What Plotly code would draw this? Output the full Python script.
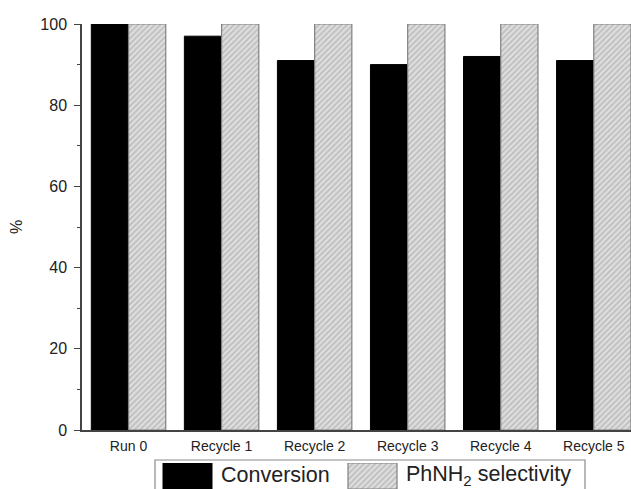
import plotly.graph_objects as go

# ---- data ----
categories = ["Run 0", "Recycle 1", "Recycle 2", "Recycle 3", "Recycle 4", "Recycle 5"]
conversion = [100, 97, 91, 90, 92, 91]
selectivity = [100, 100, 100, 100, 100, 100]
y_ticks = [0, 20, 40, 60, 80, 100]
series_names = ["Conversion", "PhNH<sub>2</sub> selectivity"]

W, H = 631, 489
ML, MT = 82, 24
plot_bottom = 430  # pixel of y=0
paper_h = H - MT

FONT = "Liberation Sans, Arial, sans-serif"
hatch = dict(shape="/", fgcolor="#999999", bgcolor="#dedede", size=4, solidity=0.4)

fig = go.Figure()
fig.add_trace(go.Bar(x=categories, y=conversion, name=series_names[0],
                     marker=dict(color="#000000", line=dict(color="#000000", width=1)),
                     showlegend=False))
fig.add_trace(go.Bar(x=categories, y=selectivity, name=series_names[1],
                     marker=dict(color="#dedede", pattern=hatch,
                                 line=dict(color="#808080", width=1.2)),
                     showlegend=False))

# ---- custom legend (swatches on a helper axis measured in pixels) ----
legend_swatch_x = [187.5, 372.5]
legend_text_x = [219, 404]
fig.add_trace(go.Bar(x=[legend_swatch_x[0]], y=[1], width=[49], xaxis="x2", yaxis="y2",
                     marker=dict(color="#000000", line=dict(color="#000000", width=1)),
                     showlegend=False, hoverinfo="skip"))
fig.add_trace(go.Bar(x=[legend_swatch_x[1]], y=[1], width=[49], xaxis="x2", yaxis="y2",
                     marker=dict(color="#dedede", pattern=hatch,
                                 line=dict(color="#808080", width=1.2)),
                     showlegend=False, hoverinfo="skip"))

for tx, name in zip(legend_text_x, series_names):
    fig.add_annotation(x=tx, y=(H - 475) / paper_h, xref="x2", yref="paper",
                       text=name, showarrow=False, xanchor="left", yanchor="middle",
                       font=dict(family=FONT, size=21.5, color="#222222"))

fig.add_shape(type="rect", xref="x2", yref="paper",
              x0=155, x1=585, y0=-0.05, y1=(H - 460) / paper_h,
              line=dict(color="#8a8a8a", width=1.2), fillcolor="rgba(0,0,0,0)",
              layer="below")

fig.update_layout(
    width=W, height=H,
    margin=dict(l=ML, r=0, t=MT, b=0, pad=0, autoexpand=False),
    paper_bgcolor="white", plot_bgcolor="white",
    barmode="group", bargap=0.2, bargroupgap=0,
    font=dict(family=FONT, color="#222222"),
    showlegend=False,
    xaxis=dict(range=[-0.5, 5.4], showline=True, linecolor="#444444", linewidth=1.5,
               ticks="", showgrid=False, zeroline=False, automargin=False,
               ticklabelstandoff=2,
               tickfont=dict(size=14, color="#222222"), anchor="y"),
    yaxis=dict(domain=[(H - plot_bottom) / paper_h, 1], range=[0, 100],
               tickvals=y_ticks, showline=True, linecolor="#444444", linewidth=1.5,
               ticks="outside", ticklen=6, tickwidth=1.2, tickcolor="#444444",
               minor=dict(ticks="outside", ticklen=3, tickwidth=1, tickcolor="#444444", dtick=10),
               showgrid=False, zeroline=False, automargin=False,
               ticklabelstandoff=4,
               tickfont=dict(size=16, color="#222222"),
               title=dict(text="%", font=dict(size=16, color="#222222"), standoff=14),
               anchor="x"),
    xaxis2=dict(domain=[0, 1], range=[ML, W], visible=False, anchor="y2", automargin=False),
    yaxis2=dict(domain=[0, (H - 463) / paper_h], range=[0, 1], visible=False, anchor="x2",
                automargin=False),
)

fig.write_html("out.html")
